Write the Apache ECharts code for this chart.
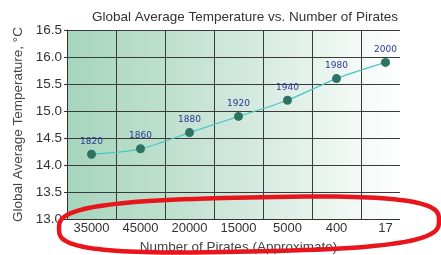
<!DOCTYPE html>
<html>
<head>
<meta charset="utf-8">
<script src="https://cdn.jsdelivr.net/npm/echarts@6/dist/echarts.min.js"></script>
<style>
  html, body { margin: 0; padding: 0; background: #fff; }
  #chart { width: 441px; height: 255px; }
</style>
</head>
<body>
<div id="chart"></div>
<script>
// pirates vs temperature

const pirates = ['35000', '45000', '20000', '15000', '5000', '400', '17'];
const years = ['1820', '1860', '1880', '1920', '1940', '1980', '2000'];
const temperatures = [14.2, 14.3, 14.6, 14.9, 15.2, 15.6, 15.9];

const chart = echarts.init(document.getElementById('chart'));

// red hand drawn ring round the x axis (a squarish ellipse, tipped a little)
const ring = [];
for (let i = 0; i <= 120; i++) {
	const a = i / 120 * Math.PI * 2;
	const c = Math.cos(a), s = Math.sin(a);
	const ux = Math.sign(c) * Math.pow(Math.abs(c), 2 / 3);
	const uy = Math.sign(s) * Math.pow(Math.abs(s), 2 / 3);
	ring.push([249 + 190 * ux, 224.5 + 27 * uy - 4 * ux]);
}

const option = {
	animation: false,
	textStyle: { fontFamily: 'Liberation Sans' },
	title: {
		text: 'Global Average Temperature vs. Number of Pirates',
		left: 87,
		top: 5,
		textStyle: { fontSize: 13.5, fontWeight: 'normal', color: '#333' }
	},
	grid: {
		left: 67, right: 31, top: 30, bottom: 36,
		outerBoundsMode: 'none',
		containLabel: false,
		show: true,
		borderWidth: 0,
		backgroundColor: new echarts.graphic.LinearGradient(0, 0, 1, 0, [
			{ offset: 0, color: '#a6d5bc' },
			{ offset: 0.5, color: '#d0e8dc' },
			{ offset: 0.97, color: '#ffffff' }
		])
	},
	xAxis: {
		type: 'category',
		data: pirates,
		name: 'Number of Pirates (Approximate)',
		nameLocation: 'middle',
		nameGap: 17,
		nameTextStyle: { fontSize: 13.5, color: '#444' },
		axisLine: { lineStyle: { color: '#333' } },
		axisTick: { length: 3, interval: 0, lineStyle: { color: '#333' } },
		axisLabel: { fontSize: 13, color: '#333', margin: 3, interval: 0, hideOverlap: false },
		splitLine: { show: true, interval: 0, lineStyle: { color: '#3a3a3a' } }
	},
	yAxis: {
		type: 'value',
		min: 13,
		max: 16.5,
		interval: 0.5,
		name: 'Global Average Temperature, °C',
		nameLocation: 'middle',
		nameGap: 42,
		nameTextStyle: { fontSize: 13.5, color: '#444' },
		axisLine: { show: true, lineStyle: { color: '#333' } },
		axisTick: { show: true, length: 3, lineStyle: { color: '#333' } },
		axisLabel: { fontSize: 13.5, color: '#333', margin: 5, formatter: v => v.toFixed(1) },
		splitLine: { lineStyle: { color: '#3a3a3a' } }
	},
	series: [
		{
			type: 'line',
			data: temperatures,
			smooth: 0.3,
			symbol: 'circle',
			symbolSize: 9,
			lineStyle: { color: '#4cc3c8', width: 1.2 },
			itemStyle: { color: '#2e7362' },
			label: {
				show: true,
				position: 'top',
				distance: 4,
				fontSize: 9,
				color: '#2a3790',
				fontFamily: 'DejaVu Sans',
				formatter: p => years[p.dataIndex]
			},
			z: 5
		}
	],
	graphic: [
		{
			type: 'rect',
			shape: { x: 400, y: 26, width: 14, height: 197 },
			style: { fill: '#ffffff' },
			z: 100
		},
		{
			type: 'polygon',
			shape: { points: ring },
			style: { fill: 'none', stroke: '#e8161c', lineWidth: 4.5 },
			z: 101
		}
	]
};

chart.setOption(option);
</script>
</body>
</html>
